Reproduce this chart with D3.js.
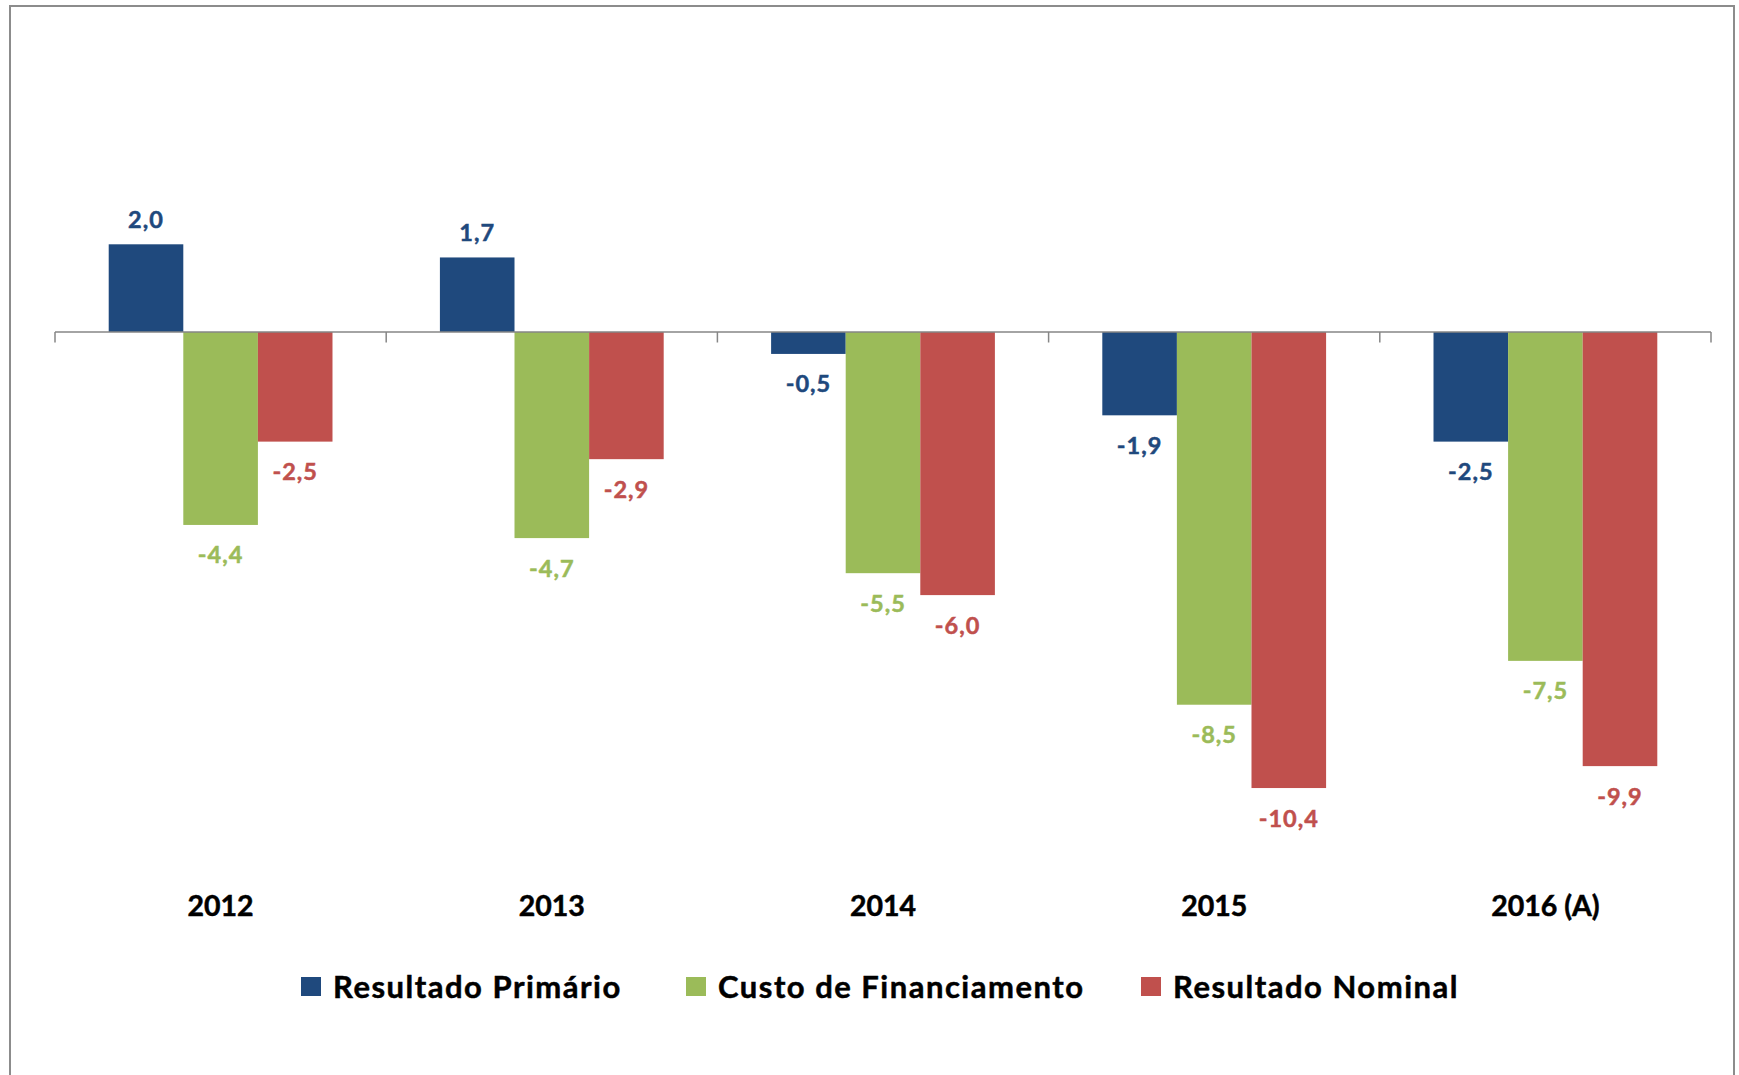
<!DOCTYPE html>
<html>
<head>
<meta charset="utf-8">
<script src="https://cdn.jsdelivr.net/npm/d3@7/dist/d3.min.js"></script>
<style>
  html, body { margin: 0; padding: 0; background: #fff; }
  svg { display: block; font-family: Lato, "Open Sans", sans-serif; }
</style>
</head>
<body>
<svg id="chart" width="1739" height="1075"></svg>
<script>
const categories = ["2012", "2013", "2014", "2015", "2016 (A)"];
const seriesNames = ["Resultado Primário", "Custo de Financiamento", "Resultado Nominal"];
const primario = [2.0, 1.7, -0.5, -1.9, -2.5];
const custo = [-4.4, -4.7, -5.5, -8.5, -7.5];
const nominal = [-2.5, -2.9, -6.0, -10.4, -9.9];
const colors = ["#1F497D", "#9BBB59", "#C0504D"];
const seriesValues = [primario, custo, nominal];

const svg = d3.select("#chart");

// chart border
svg.append("rect")
  .attr("x", 10).attr("y", 6)
  .attr("width", 1724).attr("height", 1090)
  .attr("fill", "#fff").attr("stroke", "#8c8c8c").attr("stroke-width", 2);

const x0 = d3.scaleBand().domain(categories).range([55, 1711]).paddingInner(0).paddingOuter(0);
const x1 = d3.scaleBand().domain(seriesNames).range([0, x0.bandwidth()]).paddingInner(0).paddingOuter(0.72);
const y = d3.scaleLinear().domain([-12, 4]).range([332 + 12 * 43.85, 332 - 4 * 43.85]);

const fmt = v => v.toFixed(1).replace(".", ",");

const data = [];
categories.forEach((c, i) => {
  seriesNames.forEach((s, j) => {
    data.push({ cat: c, series: s, idx: j, value: seriesValues[j][i] });
  });
});

const g = svg.append("g");
g.selectAll("rect.bar").data(data).enter().append("rect")
  .attr("class", "bar")
  .attr("x", d => x0(d.cat) + x1(d.series))
  .attr("width", x1.bandwidth())
  .attr("y", d => y(Math.max(0, d.value)))
  .attr("height", d => Math.abs(y(d.value) - y(0)))
  .attr("fill", d => colors[d.idx]);

// axis line and ticks
const axis = d3.axisBottom(x0).tickSize(0).tickFormat("");
const ax = svg.append("g").attr("transform", `translate(0,${y(0)})`).call(axis);
ax.select(".domain").attr("stroke", "#868686").attr("stroke-width", 1.5);
const boundaries = categories.map(c => x0(c)).concat([x0.range()[1]]);
ax.selectAll("line.bt").data(boundaries).enter().append("line")
  .attr("class", "bt")
  .attr("x1", d => d).attr("x2", d => d)
  .attr("y1", 0).attr("y2", 10.5)
  .attr("stroke", "#868686").attr("stroke-width", 1.5);
ax.select(".domain").attr("d", `M${x0.range()[0]},0H${x0.range()[1]}`);

// data labels
g.selectAll("text.lbl").data(data).enter().append("text")
  .attr("class", "lbl")
  .attr("x", d => x0(d.cat) + x1(d.series) + x1.bandwidth() / 2)
  .attr("y", d => d.value >= 0 ? y(d.value) - 16 : y(d.value) + 38.5)
  .attr("text-anchor", "middle")
  .attr("font-size", 23.5)
  .attr("font-weight", "bold")
  .attr("letter-spacing", 1)
  .attr("fill", d => colors[d.idx])
  .attr("stroke", d => colors[d.idx])
  .attr("stroke-width", 0.5)
  .text(d => fmt(d.value));

// category labels
svg.append("g").selectAll("text").data(categories).enter().append("text")
  .attr("x", d => x0(d) + x0.bandwidth() / 2)
  .attr("y", 916)
  .attr("text-anchor", "middle")
  .attr("font-size", 28.5)
  .attr("font-weight", "bold")
  .attr("fill", "#000")
  .attr("stroke", "#000")
  .attr("stroke-width", 0.5)
  .text(d => d);

// legend
const legendX = [301, 686, 1141];
const lg = svg.append("g").selectAll("g").data(seriesNames).enter().append("g")
  .attr("transform", (d, i) => `translate(${legendX[i]},0)`);
lg.append("rect")
  .attr("x", 0).attr("y", 977).attr("width", 20).attr("height", 19)
  .attr("fill", (d, i) => colors[i]);
lg.append("text")
  .attr("x", 32).attr("y", 998)
  .attr("font-size", 31)
  .attr("font-weight", "bold")
  .attr("letter-spacing", 1.5)
  .attr("fill", "#000")
  .attr("stroke", "#000")
  .attr("stroke-width", 0.5)
  .text(d => d);
</script>
</body>
</html>
